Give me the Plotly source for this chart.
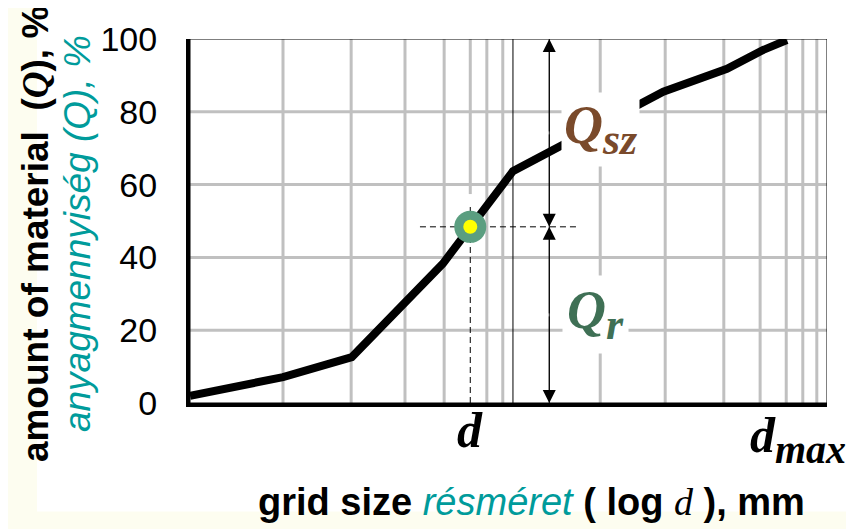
import plotly.graph_objects as go

# x values: relative position along the schematic logarithmic size axis (0-100 % of axis width)
curve_x = [0, 14.6, 25.4, 39.7, 50.7, 74.3, 84.3, 90.0, 93.7]
curve_q = [2.0, 7.1, 12.6, 38.3, 63.7, 85.5, 91.8, 97.0, 99.7]
grid_x = [14.6, 25.3, 33.75, 39.9, 46.6, 49.1, 64.4, 74.6, 83.8, 89.5, 93.6, 96.2, 98.4]
grid_q = [20, 40, 60, 80]
y_ticks = [0, 20, 40, 60, 80, 100]
d_x = 44.0      # position of size d
d_q = 48.4      # passing amount Q_r at d
decade_x = 50.7
arrow_x = 56.4
dmax_x = 87.6

SANS = "Arial, Liberation Sans, sans-serif"
SERIF = "Liberation Serif, Times New Roman, serif"
GRID = "#C0C0C0"
TEAL = "#009B9B"

fig = go.Figure()

# curve
fig.add_trace(go.Scatter(x=curve_x, y=curve_q, mode="lines",
                         line=dict(color="black", width=8, shape="linear"),
                         hoverinfo="skip", showlegend=False))
# point
fig.add_trace(go.Scatter(x=[d_x], y=[d_q], mode="markers",
                         marker=dict(size=32, color="#5B9E80", line=dict(width=0)),
                         showlegend=False, hoverinfo="skip"))
fig.add_trace(go.Scatter(x=[d_x], y=[d_q], mode="markers",
                         marker=dict(size=14, color="#FFFF00", line=dict(width=0)),
                         showlegend=False, hoverinfo="skip"))

shapes = []
# white page area over light-yellow paper
shapes.append(dict(type="rect", xref="paper", yref="paper", x0=-0.2402, x1=1.1, y0=-0.2978, y1=1.2,
                   fillcolor="white", line=dict(width=0), layer="below"))
# grid
for gx in grid_x:
    shapes.append(dict(type="line", xref="x", yref="y", x0=gx, x1=gx, y0=0, y1=100,
                       line=dict(color=GRID, width=3), layer="below"))
shapes.append(dict(type="line", xref="x", yref="y", x0=d_x, x1=d_x, y0=57.4, y1=100,
                   line=dict(color=GRID, width=3), layer="below"))
for gq in grid_q:
    shapes.append(dict(type="line", xref="x", yref="y", x0=0, x1=100, y0=gq, y1=gq,
                       line=dict(color=GRID, width=3), layer="below"))
# decade line
shapes.append(dict(type="line", xref="x", yref="y", x0=decade_x, x1=decade_x, y0=0, y1=100,
                   line=dict(color="black", width=1), layer="below"))
# frame (thin top/right)
shapes.append(dict(type="rect", xref="x", yref="y", x0=0, x1=100, y0=0, y1=100,
                   line=dict(color="black", width=1), layer="below"))
# dashed guides
shapes.append(dict(type="line", xref="x", yref="y", x0=d_x, x1=d_x, y0=0, y1=d_q + 6.5,
                   line=dict(color="black", width=1, dash="6px,4px"), layer="below"))
shapes.append(dict(type="line", xref="x", yref="y", x0=d_x - 7.9, x1=d_x + 16.8, y0=d_q, y1=d_q,
                   line=dict(color="black", width=1, dash="6px,4px"), layer="below"))
# arrow shaft
shapes.append(dict(type="line", xref="x", yref="y", x0=arrow_x, x1=arrow_x, y0=0, y1=100,
                   line=dict(color="black", width=1), layer="above"))

annotations = []
# double arrows
for y_head, y_tail in [(100, d_q), (d_q, 100), (d_q, 0), (0, d_q)]:
    annotations.append(dict(x=arrow_x, y=y_head, ax=arrow_x, ay=(y_head + y_tail) / 2,
                            xref="x", yref="y", axref="x", ayref="y", text="",
                            showarrow=True, arrowhead=2, arrowsize=2.6, arrowwidth=1,
                            arrowcolor="black"))
# Q labels
annotations.append(dict(x=64.4, y=75.1, xref="x", yref="y", showarrow=False,
                        text="<b><i>Q<sub><span style=\"font-size:44px\">sz</span></sub></i></b>",
                        bgcolor="white", borderpad=2,
                        font=dict(family=SERIF, size=54, color="#7A4A2B")))
annotations.append(dict(x=63.6, y=24.3, xref="x", yref="y", showarrow=False,
                        text="<b><i>Q<sub><span style=\"font-size:44px\">r</span></sub></i></b>",
                        bgcolor="white", borderpad=4,
                        font=dict(family=SERIF, size=54, color="#3F7055")))
# x labels
annotations.append(dict(x=d_x, y=-0.074, xref="x", yref="paper", showarrow=False,
                        xanchor="center", yanchor="middle",
                        text="<b><i>d</i></b>", font=dict(family=SERIF, size=50, color="black")))
annotations.append(dict(x=dmax_x, y=-0.101, xref="x", yref="paper", xanchor="left", yanchor="middle",
                        showarrow=False,
                        text="<b><i>d<sub><span style=\"font-size:40px\">max</span></sub></i></b>",
                        font=dict(family=SERIF, size=50, color="black")))
# axis titles
annotations.append(dict(x=(531 - 190) / 637, y=-0.273, xref="paper", yref="paper", showarrow=False,
                        xanchor="center", yanchor="middle",
                        text=("<b>grid size</b> <i><span style=\"color:" + TEAL + "\">résméret</span></i> "
                              "<b>( log </b><span style=\"font-family:Liberation Serif\"><i>d</i></span><b> ), mm</b>"),
                        font=dict(family=SANS, size=38, color="black")))
annotations.append(dict(x=(35 - 190) / 637, y=0.464, xref="paper", yref="paper", showarrow=False,
                        xanchor="center", yanchor="middle", textangle=-90,
                        text=("<b>amount of material  (<span style=\"font-family:Liberation Serif\"><i>Q</i></span>), %</b>"),
                        font=dict(family=SANS, size=37, color="black")))
annotations.append(dict(x=(77 - 190) / 637, y=0.464, xref="paper", yref="paper", showarrow=False,
                        xanchor="center", yanchor="middle", textangle=-90,
                        text="<i>anyagmennyiség (Q), %</i>",
                        font=dict(family=SANS, size=37, color=TEAL)))

fig.update_layout(
    width=846, height=521,
    margin=dict(l=182, r=27, t=29, b=126),
    paper_bgcolor="#FDFDF0",
    plot_bgcolor="white",
    shapes=shapes,
    annotations=annotations,
    showlegend=False,
    xaxis=dict(range=[0, 100], showgrid=False, zeroline=False, showticklabels=False, ticks="",
               showline=True, linecolor="black", linewidth=4, fixedrange=True),
    yaxis=dict(range=[0, 100], tickvals=y_ticks, showgrid=False, zeroline=False, ticks="",
               ticklabelstandoff=22, tickfont=dict(family=SANS, size=34, color="black"),
               showline=True, linecolor="black", linewidth=4, fixedrange=True),
)

fig.write_html("out.html")
